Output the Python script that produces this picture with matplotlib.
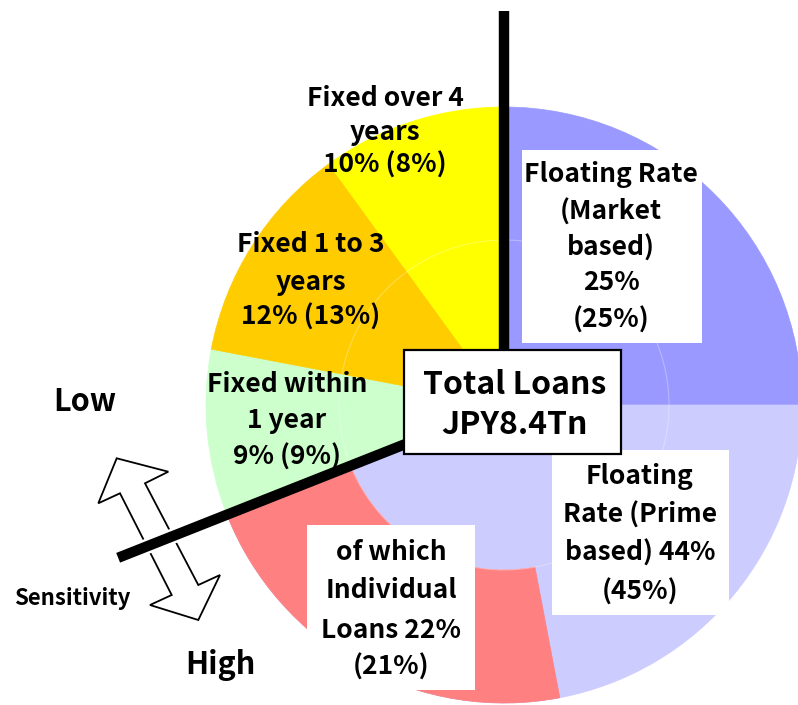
import matplotlib
matplotlib.use("Agg")
import matplotlib.pyplot as plt
from matplotlib.patches import Wedge, Rectangle, Polygon, Circle
import numpy as np

W, H = 798, 705

# ---- data ----
categories = ["Floating Rate (Market based)", "Floating Rate (Prime based)",
              "Fixed within 1 year", "Fixed 1 to 3 years", "Fixed over 4 years"]
shares = [25, 44, 9, 12, 10]
prev_shares = [25, 45, 9, 13, 8]
colors = ["#9999FF", "#CCCCFF", "#CCFFCC", "#FFCC00", "#FFFF00"]
individual_share = 22
individual_prev = 21
individual_color = "#FF8080"
total_label = "Total Loans\nJPY8.4Tn"

FONT = ["Noto Sans CJK JP", "DejaVu Sans"]

fig = plt.figure(figsize=(W / 100, H / 100), dpi=100)
ax = fig.add_axes([0, 0, 1, 1])

def Y(py):
    return H - py

cx, cy, R = 504, Y(405), 298
r_in = 165

wedges, _ = ax.pie(shares, colors=colors, startangle=90, counterclock=False,
                   center=(cx, cy), radius=R, frame=True,
                   wedgeprops=dict(linewidth=0.5))
for w in wedges:
    w.set_edgecolor(w.get_facecolor())

# individual loans (subset of prime based), annular sector
start_ind = 90 - 360 * (shares[0] + shares[1]) / 100
end_ind = start_ind + 360 * individual_share / 100
ax.add_patch(Wedge((cx, cy), R, start_ind, end_ind, width=R - r_in,
                   facecolor=individual_color, edgecolor=individual_color, lw=0.5, zorder=2))
# faint inner ring
ax.add_patch(Circle((cx, cy), r_in, fill=False, edgecolor="white", lw=0.8,
                    alpha=0.3, zorder=2.5))

ax.set_xlim(0, W)
ax.set_ylim(0, H)
ax.set_aspect("equal")
ax.axis("off")

# sensitivity double arrow
arrow_px = [(116.7, 458.3), (168.3, 471.7), (145, 483.3), (198.3, 585), (220, 575),
            (198.3, 620), (150, 605), (171.7, 595), (120, 493.3), (98.3, 503.3)]
ax.add_patch(Polygon([(x, Y(y)) for x, y in arrow_px], closed=True,
                     facecolor="white", edgecolor="black", lw=1.3, zorder=3))

# black divider lines
ax.plot([cx, cx], [cy, Y(11)], color="black", lw=7.5, solid_capstyle="butt", zorder=4)
ang = np.deg2rad(start_ind)
L = 415
ex, ey = cx + L * np.cos(ang), cy + L * np.sin(ang)
# white halo where the line crosses the arrow
t0 = (cx - 215) / (cx - ex)
hx0, hy0 = cx + (ex - cx) * t0, cy + (ey - cy) * t0
ax.plot([hx0, ex], [hy0, ey], color="white", lw=11, solid_capstyle="butt", zorder=3.5)
ax.plot([cx, ex], [cy, ey], color="black", lw=7.5, solid_capstyle="butt", zorder=4)

# white label boxes
for (x0, y0, x1, y1) in [(522, 150, 702, 343), (552, 450, 729, 615), (307, 525, 475, 690)]:
    ax.add_patch(Rectangle((x0, Y(y1)), x1 - x0, y1 - y0, facecolor="white",
                           edgecolor="none", zorder=5))
# total box
ax.add_patch(Rectangle((404, Y(454)), 621 - 404, 454 - 350, facecolor="white",
                       edgecolor="black", lw=1.6, zorder=6))

def lines(x, ys, texts, size=19, weight="bold"):
    for yy, t in zip(ys, texts):
        ax.text(x, Y(yy), t, ha="center", va="center", fontsize=size,
                fontweight=weight, family=FONT, zorder=7)

pct = lambda a, b: f"{a}% ({b}%)"

lines(385, [98, 132, 165], ["Fixed over 4", "years", pct(shares[4], prev_shares[4])])
lines(311, [245, 282, 317], ["Fixed 1 to 3", "years", pct(shares[3], prev_shares[3])])
lines(287, [385, 420, 457], ["Fixed within", "1 year", pct(shares[2], prev_shares[2])])
lines(611, [175, 212, 248, 283, 320],
      ["Floating Rate", "(Market", "based)", f"{shares[0]}%", f"({prev_shares[0]}%)"])
lines(640, [477, 515, 553, 592],
      ["Floating", "Rate (Prime", f"based) {shares[1]}%", f"({prev_shares[1]}%)"])
lines(391, [552, 590, 630, 667],
      ["of which", "Individual", f"Loans {individual_share}%", f"({individual_prev}%)"])
tl = total_label.split("\n")
lines(515, [385, 425], tl, size=23)

ax.text(85, Y(402), "Low", ha="center", va="center", fontsize=22, fontweight="bold", family=FONT)
ax.text(220, Y(665), "High", ha="center", va="center", fontsize=22, fontweight="bold", family=FONT)
ax.text(72, Y(598), "Sensitivity", ha="center", va="center", fontsize=16, fontweight="bold", family=FONT)

fig.savefig("out.png", dpi=100)
